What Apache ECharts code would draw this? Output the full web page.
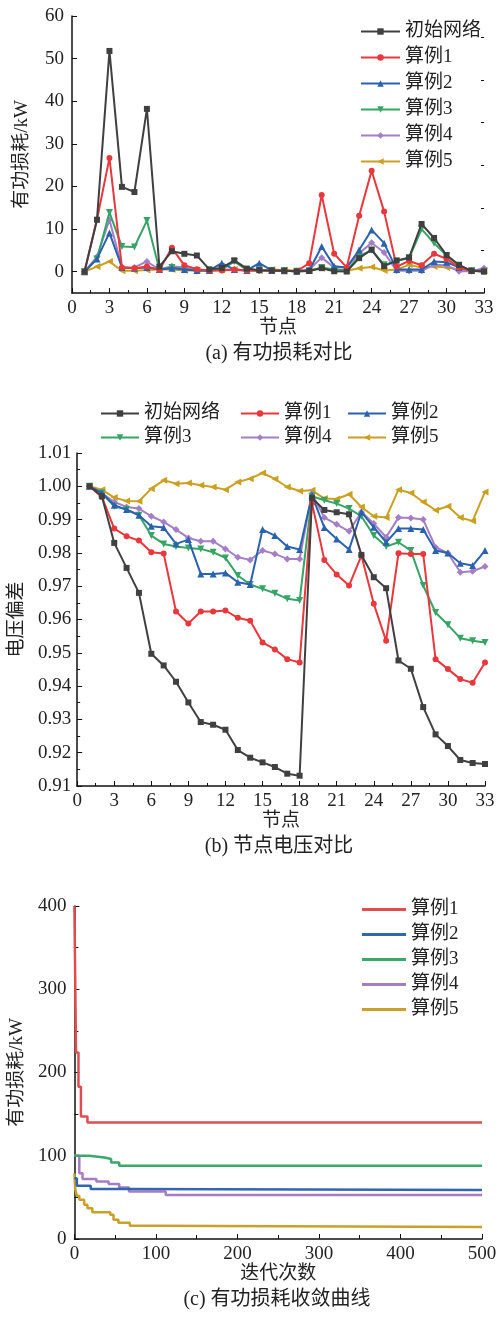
<!DOCTYPE html>
<html><head><meta charset="utf-8">
<script src="https://cdn.jsdelivr.net/npm/echarts@6/dist/echarts.min.js"></script>
<style>html,body{margin:0;padding:0;background:#fff}#c{width:502px;height:1320px}</style>
</head><body><div id="c"></div>
<script>
// ---------- data ----------
const nodes = [1,2,3,4,5,6,7,8,9,10,11,12,13,14,15,16,17,18,19,20,21,22,23,24,25,26,27,28,29,30,31,32,33];
const seriesNames = ['初始网络','算例1','算例2','算例3','算例4','算例5'];

// (a) active power loss per node, kW
const lossBase  = [0,12.2,51.8,19.9,18.7,38.2,1.2,4.8,4.2,3.8,0.55,0.88,2.66,0.73,0.36,0.28,0.25,0.05,0.16,0.83,0.10,0.04,3.18,5.14,1.29,2.60,3.33,11.2,7.9,3.89,1.59,0.21,0.01];
const lossCase1 = [0,12.2,26.7,1.0,0.8,1.2,0.4,5.6,1.5,0.6,0.3,0.3,0.5,0.3,0.3,0.2,0.2,0.1,2.0,18.0,4.2,1.0,13.1,23.7,14.1,1.2,2.5,1.5,4.2,3.0,1.0,0.2,0.1];
const lossCase2 = [0,3.0,9.1,1.0,0.8,1.0,0.5,0.8,0.5,0.3,0.3,2.0,0.5,0.3,2.0,0.3,0.2,0.1,0.3,5.9,1.3,1.0,5.1,9.8,6.7,0.5,0.5,0.5,2.4,2.2,1.0,0.3,0.3];
const lossCase3 = [0,3.0,13.9,5.9,5.8,12.0,0.5,1.0,0.6,0.3,0.3,0.5,2.4,0.4,0.3,0.3,0.2,0.1,0.2,1.0,0.5,0.3,3.6,5.1,1.6,2.5,3.2,10.0,6.7,3.8,1.5,0.2,0.1];
const lossCase4 = [0,3.5,12.2,1.0,1.0,2.4,0.5,1.3,1.0,0.3,0.3,0.5,0.4,0.3,0.3,0.3,0.2,0.1,0.5,3.3,1.0,1.0,4.3,6.8,4.5,0.2,0.2,0.2,1.6,1.5,0.1,0.1,0.8];
const lossCase5 = [0,1.2,2.4,0.2,0.2,0.4,0.5,0.5,0.3,0.3,0.2,0.4,0.5,0.3,0.3,0.5,0.4,0.3,0.4,0.8,0.5,0.2,0.8,1.1,0.3,0.5,1.6,1.0,1.2,1.0,0.6,0.3,0.3];

// (b) node voltage, p.u.
const voltBase  = [1.0,0.997,0.983,0.9755,0.968,0.9497,0.9462,0.9413,0.9351,0.9292,0.9284,0.9269,0.9208,0.9185,0.9171,0.9157,0.9137,0.9131,0.9965,0.9929,0.9922,0.9916,0.9794,0.9727,0.9694,0.9477,0.9452,0.9337,0.9255,0.9220,0.9178,0.9169,0.9166];
const voltCase1 = [1.0,0.9968,0.9873,0.985,0.9837,0.9802,0.9798,0.9624,0.9588,0.9624,0.9624,0.9627,0.9605,0.9596,0.9531,0.951,0.9481,0.9471,0.995,0.9779,0.9735,0.9702,0.9792,0.9647,0.9536,0.9799,0.9797,0.9797,0.9481,0.9451,0.9421,0.941,0.9471];
const voltCase2 = [1.0,0.998,0.9943,0.993,0.9913,0.988,0.9876,0.9827,0.984,0.9737,0.9737,0.974,0.9712,0.9705,0.987,0.9852,0.9819,0.981,0.9973,0.9876,0.9842,0.981,0.9923,0.9877,0.9832,0.9873,0.9873,0.987,0.9807,0.98,0.9769,0.9762,0.9807];
const voltCase3 = [1.0,0.998,0.994,0.993,0.9913,0.9852,0.9827,0.9819,0.9815,0.9812,0.9802,0.9785,0.9732,0.9705,0.9692,0.9679,0.9662,0.9657,0.997,0.9958,0.9948,0.9933,0.991,0.9852,0.9819,0.9832,0.9807,0.9702,0.9621,0.9584,0.9544,0.9536,0.9531];
const voltCase4 = [1.0,0.998,0.9953,0.9938,0.9933,0.991,0.9893,0.987,0.9845,0.9835,0.9835,0.9812,0.9787,0.9779,0.9807,0.9797,0.9782,0.9782,0.9978,0.9906,0.9886,0.9865,0.9923,0.9888,0.9847,0.9906,0.9905,0.99,0.9817,0.9799,0.9742,0.9745,0.9759];
const voltCase5 = [1.0,0.999,0.9966,0.9956,0.9955,0.9993,1.0018,1.0008,1.001,1.0003,0.9998,0.999,1.0013,1.0023,1.004,1.0022,0.9998,0.9986,0.9988,0.9963,0.9962,0.9976,0.9938,0.991,0.9906,0.999,0.998,0.9953,0.9928,0.994,0.9906,0.9896,0.9983];

// (c) convergence: iteration where value changes, and the value (kW)
const convIter1 = [0,2,5,8,16,500];
const convLoss1 = [400,224,183,147,140,140];
const convIter2 = [0,3,20,70,500];
const convLoss2 = [73,64,60,59,59];
const convIter3 = [0,18,37,45,55,500];
const convLoss3 = [100,98,96,92,88,88];
const convIter4 = [0,6,10,27,42,55,67,112,500];
const convLoss4 = [100,79,72,69,66,62,57,53,53];
const convIter5 = [0,1,3,6,12,16,22,44,48,54,68,99,500];
const convLoss5 = [79,60,52,47,41,37,32,29,23,19.6,16,14.5,14.5];

const yTicksLoss = [0,10,20,30,40,50,60];
const yMinorLoss = [5,15,25,35,45,55];

// ---------- styles ----------
const FONT = "'Liberation Serif','Noto Sans CJK SC',serif";
const TXT = '#222';
const colors = ['#404040','#e8383d','#2b62ae','#35a465','#a47fc8','#c9a020'];
const symbols = ['rect','circle','triangle','triangle','diamond','triangle'];
const rotates = [0,0,0,180,0,90];
const symSizes = [6,6,7,7,7,7];
const convColors = ['#e24c4f','#3466b0','#3aa86a','#a67cc2','#c9a02a'];

const lossData = [lossBase,lossCase1,lossCase2,lossCase3,lossCase4,lossCase5];
const voltData = [voltBase,voltCase1,voltCase2,voltCase3,voltCase4,voltCase5];
const convIters = [convIter1,convIter2,convIter3,convIter4,convIter5];
const convLosses = [convLoss1,convLoss2,convLoss3,convLoss4,convLoss5];

const FS = 19;
const axisLineStyle = {show:true,onZero:false,lineStyle:{color:'#111',width:1.5}};
const labelStyle = {fontSize:FS,color:TXT,fontFamily:FONT};
const nameStyle = {fontSize:FS,color:TXT,fontFamily:FONT};

function nodeX(gi){
  return {gridIndex:gi,type:'value',min:0,max:33,interval:3,
    axisLine:axisLineStyle,
    axisTick:{show:true,inside:true,length:5,lineStyle:{color:'#111'}},
    minorTick:{show:true,splitNumber:2,length:3,lineStyle:{color:'#111'}},
    splitLine:{show:false},
    axisLabel:Object.assign({margin:6},labelStyle),
    name:'节点',nameLocation:'middle',nameGap:25,nameTextStyle:nameStyle};
}

const series = [];
seriesNames.forEach((n,i)=>{
  series.push({name:'a:'+n,type:'line',xAxisIndex:0,yAxisIndex:0,
    data:nodes.map((x,k)=>[x,lossData[i][k]]),
    symbol:symbols[i],symbolRotate:rotates[i],symbolSize:symSizes[i],
    lineStyle:{width:2,color:colors[i]},itemStyle:{color:colors[i]},z:10-i});
});
seriesNames.forEach((n,i)=>{
  series.push({name:'b:'+n,type:'line',xAxisIndex:1,yAxisIndex:2,
    data:nodes.map((x,k)=>[x,voltData[i][k]]),
    symbol:symbols[i],symbolRotate:rotates[i],symbolSize:symSizes[i],
    lineStyle:{width:2,color:colors[i]},itemStyle:{color:colors[i]},z:10-i});
});
seriesNames.slice(1).forEach((n,i)=>{
  series.push({name:'c:'+n,type:'line',xAxisIndex:2,yAxisIndex:3,step:'end',
    data:convIters[i].map((x,k)=>[x,convLosses[i][k]]),
    showSymbol:false,symbol:'none',
    lineStyle:{width:2.5,color:convColors[i]},itemStyle:{color:convColors[i]},z:10-i});
});

const fmt = s => s.split(':')[1];
const legendBase = {orient:'vertical',padding:0,formatter:fmt,
  textStyle:{fontSize:FS,color:TXT,fontFamily:FONT}};

const capStyle = {fontSize:20,fill:TXT,fontFamily:FONT,align:'center',verticalAlign:'middle',textAlign:'center',textVerticalAlign:'middle'};

const option = {
  animation:false,
  backgroundColor:'#fff',
  grid:[
    {left:72,right:18,top:16,height:277},
    {left:72,right:17,top:453,height:333},
    {left:72,right:20,top:906,height:333}
  ],
  xAxis:[
    nodeX(0),
    nodeX(1),
    {gridIndex:2,type:'value',min:0,max:500,interval:100,
      axisLine:axisLineStyle,
      axisTick:{show:true,inside:true,length:5,lineStyle:{color:'#111'}},
      minorTick:{show:true,splitNumber:2,length:4,lineStyle:{color:'#111'}},
      splitLine:{show:false},
      axisLabel:Object.assign({margin:6},labelStyle),
      name:'迭代次数',nameLocation:'middle',nameGap:25,nameTextStyle:nameStyle}
  ],
  yAxis:[
    {gridIndex:0,type:'value',min:-5,max:60,
      axisLine:axisLineStyle,
      axisTick:{show:true,inside:true,length:5,customValues:yTicksLoss,lineStyle:{color:'#111'}},
      splitLine:{show:false},
      axisLabel:Object.assign({margin:8,customValues:yTicksLoss},labelStyle),
      name:'有功损耗/kW',nameLocation:'middle',nameGap:40,nameTextStyle:nameStyle},
    {gridIndex:0,type:'value',min:-5,max:60,
      axisLine:{show:false,onZero:false},
      axisTick:{show:true,inside:true,length:3,customValues:yMinorLoss,lineStyle:{color:'#111'}},
      splitLine:{show:false},
      axisLabel:{show:false}},
    {gridIndex:1,type:'value',min:0.91,max:1.01,interval:0.01,
      axisLine:axisLineStyle,
      axisTick:{show:true,inside:true,length:5,lineStyle:{color:'#111'}},
      minorTick:{show:true,splitNumber:2,length:3,lineStyle:{color:'#111'}},
      splitLine:{show:false},
      axisLabel:Object.assign({margin:6,formatter:v=>v.toFixed(2)},labelStyle),
      name:'电压偏差',nameLocation:'middle',nameGap:50,nameTextStyle:nameStyle},
    {gridIndex:2,type:'value',min:0,max:400,interval:100,
      axisLine:axisLineStyle,
      axisTick:{show:true,inside:true,length:5,lineStyle:{color:'#111'}},
      minorTick:{show:true,splitNumber:2,length:4,lineStyle:{color:'#111'}},
      splitLine:{show:false},
      axisLabel:Object.assign({margin:8},labelStyle),
      name:'有功损耗/kW',nameLocation:'middle',nameGap:44,nameTextStyle:nameStyle}
  ],
  legend:[
    Object.assign({},legendBase,{left:360,top:22,itemGap:7,itemWidth:39,itemHeight:8,
      data:seriesNames.map(n=>'a:'+n)}),
    Object.assign({},legendBase,{left:100,top:404,itemGap:5,itemWidth:38,itemHeight:8,
      data:['b:初始网络','b:算例3']}),
    Object.assign({},legendBase,{left:240,top:404,itemGap:5,itemWidth:38,itemHeight:8,
      data:['b:算例1','b:算例4']}),
    Object.assign({},legendBase,{left:347,top:404,itemGap:5,itemWidth:38,itemHeight:8,
      data:['b:算例2','b:算例5']}),
    Object.assign({},legendBase,{left:362,top:900,itemGap:6,itemWidth:44,itemHeight:3,icon:'rect',
      data:seriesNames.slice(1).map(n=>'c:'+n)})
  ],
  graphic:[
    {type:'text',x:279,y:354,style:Object.assign({text:'(a) 有功损耗对比'},capStyle)},
    {type:'text',x:279,y:847,style:Object.assign({text:'(b) 节点电压对比'},capStyle)},
    {type:'text',x:277,y:1300,style:Object.assign({text:'(c) 有功损耗收敛曲线'},capStyle)}
  ],
  series:series
};
const chart = echarts.init(document.getElementById('c'),null,{renderer:'canvas'});
chart.setOption(option);
</script>
</body></html>
